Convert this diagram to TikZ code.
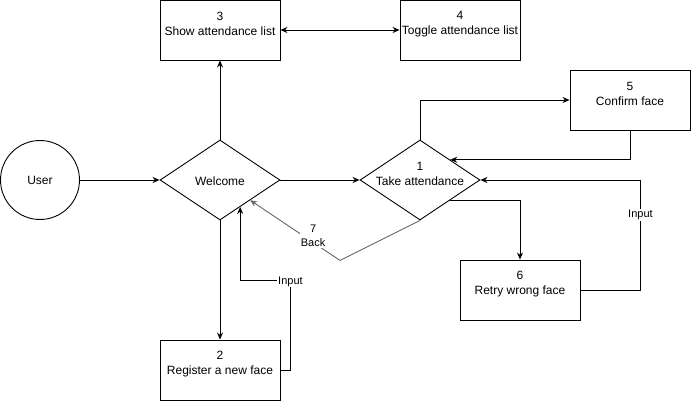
\documentclass[tikz,border=0pt]{standalone}
\usepackage{fontspec}
\setmainfont{Liberation Sans}
\usetikzlibrary{shapes.geometric,arrows.meta,calc}
\definecolor{backgray}{HTML}{666666}
\tikzset{
  stepbox/.style={draw, minimum width=120pt, minimum height=60pt, inner sep=0pt},
  choice/.style={draw, diamond, minimum width=120pt, minimum height=80pt, inner sep=0pt},
  boxtext/.style={align=center, font=\fontsize{12}{15}\selectfont, yshift=6pt},
  edgetext/.style={fill=white, inner sep=1pt, align=center, font=\fontsize{11}{14.5}\selectfont},
  flow/.style={-{Stealth[length=7pt,width=6pt]}},
}
\begin{document}
\begin{tikzpicture}[x=1pt,y=-1pt,line width=0.9pt]
\useasboundingbox (0,0) rectangle (691,401);

\node[draw, circle, minimum size=79pt, inner sep=0pt, font=\fontsize{12}{15}\selectfont] (user) at (40,180) {User};
\node[choice, label={[boxtext, yshift=-7pt]center:Welcome}] (welcome) at (220,180) {};
\node[choice, label={[boxtext]center:1\\Take attendance}] (take) at (420,180) {};

\node[stepbox, label={[boxtext]center:3\\Show attendance list}] (show) at (220,30) {};
\node[stepbox, label={[boxtext]center:4\\Toggle attendance list}] (toggle) at (460,30) {};
\node[stepbox, label={[boxtext]center:5\\Confirm face}] (confirm) at (630,100) {};
\node[stepbox, label={[boxtext]center:6\\Retry wrong face}] (retry) at (520,290) {};
\node[stepbox, label={[boxtext]center:2\\Register a new face}] (register) at (220,370) {};

\coordinate (welcome-in) at ($(welcome.south)!1/3!(welcome.east)$);

%%%%%%%%%%%%%%%%%%%%%%%%
\draw[flow] (user) -- (welcome);
\draw[flow] (welcome) -- (show);
\draw[{Stealth[length=7pt,width=6pt]}-{Stealth[length=7pt,width=6pt]}] (show) -- (toggle);
\draw[flow] (welcome) -- (take);
\draw[flow] (welcome) -- (register);
\draw[flow] (register.east) -| ++(10,-90) node[edgetext, yshift=-1.5pt] {Input} -| (welcome-in);

\draw[flow] (take.north) |- (confirm.west);
\draw[flow] (confirm.south) |- (take.north east);
\draw[flow] (take.south east) -| (retry.north);
\draw[flow] (retry.east) -- ++(60,0) |- node[edgetext, pos=0.34] {Input} (take.east);

\draw[flow, backgray] (take.south) -- ++(-80,40) -- node[edgetext, pos=0.3, yshift=6.5pt, text=black] {7\\Back} (welcome.south east);

\end{tikzpicture}
\end{document}
